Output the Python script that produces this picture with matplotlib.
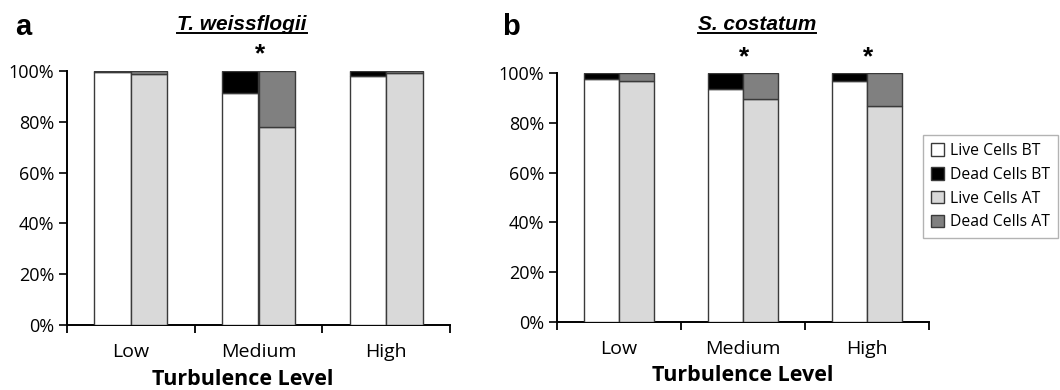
import matplotlib
matplotlib.use("Agg")
import matplotlib.pyplot as plt
from matplotlib.lines import Line2D
from matplotlib.patches import Patch
import numpy as np

categories = ["Low", "Medium", "High"]

# Panel a: T. weissflogii (fractions)
a_live_bt = [0.997, 0.915, 0.982]
a_dead_bt = [0.003, 0.085, 0.018]
a_live_at = [0.988, 0.780, 0.991]
a_dead_at = [0.012, 0.220, 0.009]
a_sig = [False, True, False]

# Panel b: S. costatum (fractions)
b_live_bt = [0.974, 0.934, 0.966]
b_dead_bt = [0.026, 0.066, 0.034]
b_live_at = [0.967, 0.897, 0.869]
b_dead_at = [0.033, 0.103, 0.131]
b_sig = [False, True, True]

yticks = [0, 0.2, 0.4, 0.6, 0.8, 1.0]
ytick_labels = ["0%", "20%", "40%", "60%", "80%", "100%"]
legend_labels = ["Live Cells BT", "Dead Cells BT", "Live Cells AT", "Dead Cells AT"]

C_LIVE_BT = "#ffffff"
C_DEAD_BT = "#000000"
C_LIVE_AT = "#d9d9d9"
C_DEAD_AT = "#808080"
EDGE = "#3a3a3a"

FONT = "Open Sans"

fig = plt.figure(figsize=(10.6, 3.9), dpi=100)
ax_a = fig.add_axes([67/1060, 65/390, 383/1060, 254/390])
ax_b = fig.add_axes([557/1060, 68/390, 372/1060, 249/390])


def draw(ax, live_bt, dead_bt, live_at, dead_at, sig, xlabel_x):
    x = np.arange(len(categories)) + 0.5
    w = 0.285
    kw = dict(width=w, edgecolor=EDGE, linewidth=1.0, zorder=3)
    ax.bar(x - w/2, live_bt, color=C_LIVE_BT, **kw)
    ax.bar(x - w/2, dead_bt, bottom=live_bt, color=C_DEAD_BT, **kw)
    ax.bar(x + w/2, live_at, color=C_LIVE_AT, **kw)
    ax.bar(x + w/2, dead_at, bottom=live_at, color=C_DEAD_AT, **kw)
    for xi, s in zip(x, sig):
        if s:
            ax.text(xi + 0.01, 1.065, "*", ha="center", va="center", fontsize=19,
                    fontweight="bold", family="Liberation Sans", clip_on=False)
    ax.set_xlim(0, 3)
    ax.set_ylim(0, 1)
    ax.set_yticks(yticks)
    ax.set_yticklabels(ytick_labels, family=FONT, fontsize=13)
    ax.set_xticks(x)
    ax.set_xticklabels(categories, family=FONT, fontsize=14)
    ax.tick_params(axis="x", which="major", length=0, pad=13)
    ax.set_xticks([0, 1, 2, 3], minor=True)
    ax.tick_params(axis="x", which="minor", length=6, width=1.3, direction="out", color="black")
    ax.tick_params(axis="y", length=6, width=1.2, direction="out", pad=3)
    for s in ["top", "right"]:
        ax.spines[s].set_visible(False)
    for s in ["left", "bottom"]:
        ax.spines[s].set_linewidth(1.4)
        ax.spines[s].set_color("black")
    ax.set_xlabel("Turbulence Level", family=FONT, fontsize=15.5, fontweight="bold", labelpad=4)
    ax.xaxis.set_label_coords(xlabel_x, -0.172)
    ax.xaxis.label.set_va("top")


draw(ax_a, a_live_bt, a_dead_bt, a_live_at, a_dead_at, a_sig, 0.46)
draw(ax_b, b_live_bt, b_dead_bt, b_live_at, b_dead_at, b_sig, 0.5)

fig.text(15/1060, 1 - 27/390, "a", fontsize=21, fontweight="bold", family="Liberation Sans", va="center")
fig.text(502/1060, 1 - 27/390, "b", fontsize=21, fontweight="bold", family="Liberation Sans", va="center")

titles = [("T. weissflogii", 242/1060), ("S. costatum", 757/1060)]
title_objs = []
for t, xc in titles:
    tx = fig.text(xc, 1 - 24/390, t, fontsize=15, fontweight="bold", style="italic",
                  family="Liberation Sans", ha="center", va="center")
    title_objs.append(tx)

fig.canvas.draw()
renderer = fig.canvas.get_renderer()
inv = fig.transFigure.inverted()
for tx in title_objs:
    bb = tx.get_window_extent(renderer)
    (x0, y0), (x1, y1) = inv.transform([(bb.x0, bb.y0), (bb.x1, bb.y1)])
    yl = 1 - 33/390
    fig.add_artist(Line2D([x0, x1], [yl, yl], transform=fig.transFigure, color="black", linewidth=1.4))

handles = [Patch(facecolor=c, edgecolor=EDGE, linewidth=1.0) for c in
           [C_LIVE_BT, C_DEAD_BT, C_LIVE_AT, C_DEAD_AT]]
leg = fig.legend(handles, legend_labels, loc="upper left",
                 bbox_to_anchor=(923/1060, 1 - 135/390),
                 prop={"family": FONT, "size": 11.3}, frameon=True, fancybox=False,
                 edgecolor="#a0a0a0", handlelength=0.85, handleheight=0.85,
                 handletextpad=0.4, borderpad=0.5, labelspacing=0.5, borderaxespad=0)
leg.get_frame().set_linewidth(1.0)

fig.savefig("out.png", dpi=100)
